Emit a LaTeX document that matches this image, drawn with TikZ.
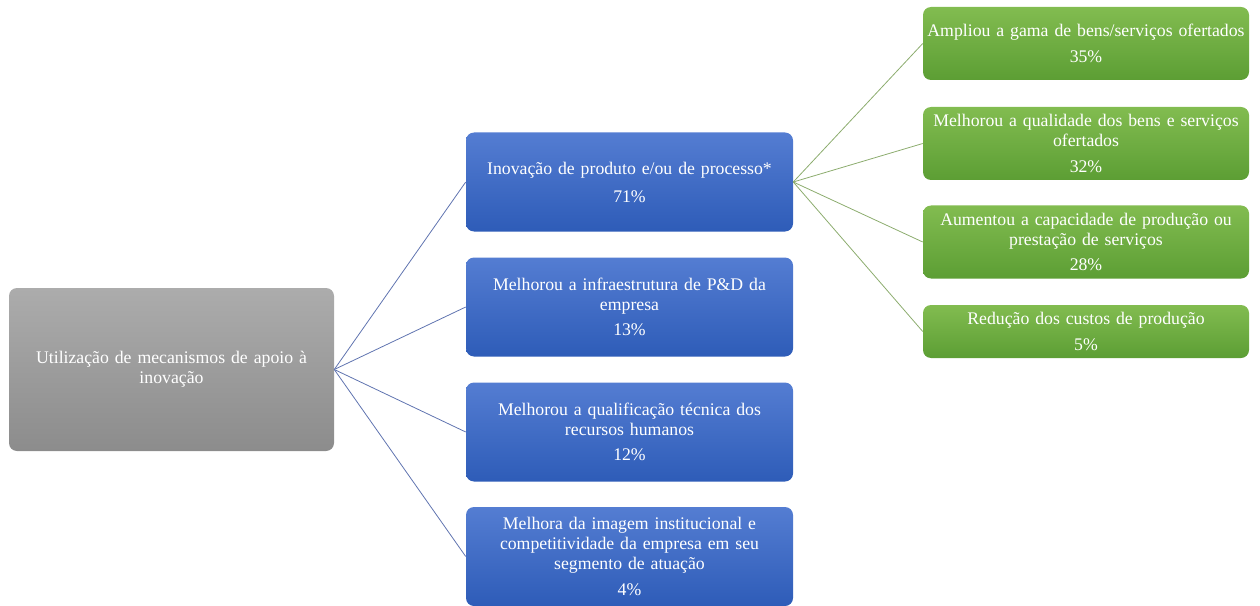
\documentclass[tikz,border=0pt]{standalone}
\usepackage{fontspec}
\setmainfont{Liberation Serif}
\usepackage{tikz}
\usetikzlibrary{positioning}
\definecolor{rootTop}{RGB}{172,172,172}
\definecolor{rootBot}{RGB}{140,140,140}
\definecolor{blueTop}{RGB}{84,125,210}
\definecolor{blueBot}{RGB}{46,92,184}
\definecolor{greenTop}{RGB}{130,188,80}
\definecolor{greenBot}{RGB}{92,158,52}
\definecolor{blueLine}{RGB}{96,116,176}
\definecolor{greenLine}{RGB}{140,172,110}

\begin{document}
\begin{tikzpicture}[x=0.75pt, y=-0.75pt,
  box/.style={rounded corners=6pt, text=white, align=center, inner sep=1pt,
    font=\fontsize{13.3}{15}\selectfont},
  rootbox/.style={box, top color=rootTop, bottom color=rootBot,
    minimum width=243.75pt, minimum height=122.25pt, text width=238pt},
  effect/.style={box, top color=blueTop, bottom color=blueBot,
    minimum width=245.25pt, minimum height=74.25pt, text width=240pt},
  result/.style={box, top color=greenTop, bottom color=greenBot,
    minimum width=244.5pt, minimum height=54.75pt, text width=242pt},
  blueedge/.style={draw=blueLine, line width=0.6pt},
  greenedge/.style={draw=greenLine, line width=0.6pt}]
\useasboundingbox (0,0) rectangle (1260,606);
%%% apoio a inovacao %%%

      \node[rootbox] (apoio) at (171.5,369.5) {Utilização de mecanismos de apoio à\\ inovação};
      %%
      \node[effect] (inov) at (629.5,182) {Inovação de produto e/ou de processo*\\[6pt] 71\%};
      \node[effect] (infra) at (629.5,307) {Melhorou a infraestrutura de P\&D da\\ empresa\\[4pt] 13\%};
      \node[effect] (qualif) at (629.5,432) {Melhorou a qualificação técnica dos\\ recursos humanos\\[4pt] 12\%};
      \node[effect] (imagem) at (629.5,556.5) {Melhora da imagem institucional e\\ competitividade da empresa em seu\\ segmento de atuação\\[4pt] 4\%};
      %%
      \node[result] (gama) at (1086,43.5) {Ampliou a gama de bens/serviços ofertados\\[4pt] 35\%};
      \node[result] (qualid) at (1086,143.5) {Melhorou a qualidade dos bens e serviços\\ ofertados\\[4pt] 32\%};
      \node[result] (capac) at (1086,242) {Aumentou a capacidade de produção ou\\ prestação de serviços\\[4pt] 28\%};
      \node[result, minimum height=39.75pt] (custos) at (1086,331.5) {Redução dos custos de produção\\[4pt] 5\%};

      %% ligacoes
      \foreach \n in {inov,infra,qualif,imagem}
        \draw[blueedge] (apoio.east) -- (\n.west);
      \foreach \n in {gama,qualid,capac,custos}
        \draw[greenedge] (inov.east) -- (\n.west);

\end{tikzpicture}
\end{document}
